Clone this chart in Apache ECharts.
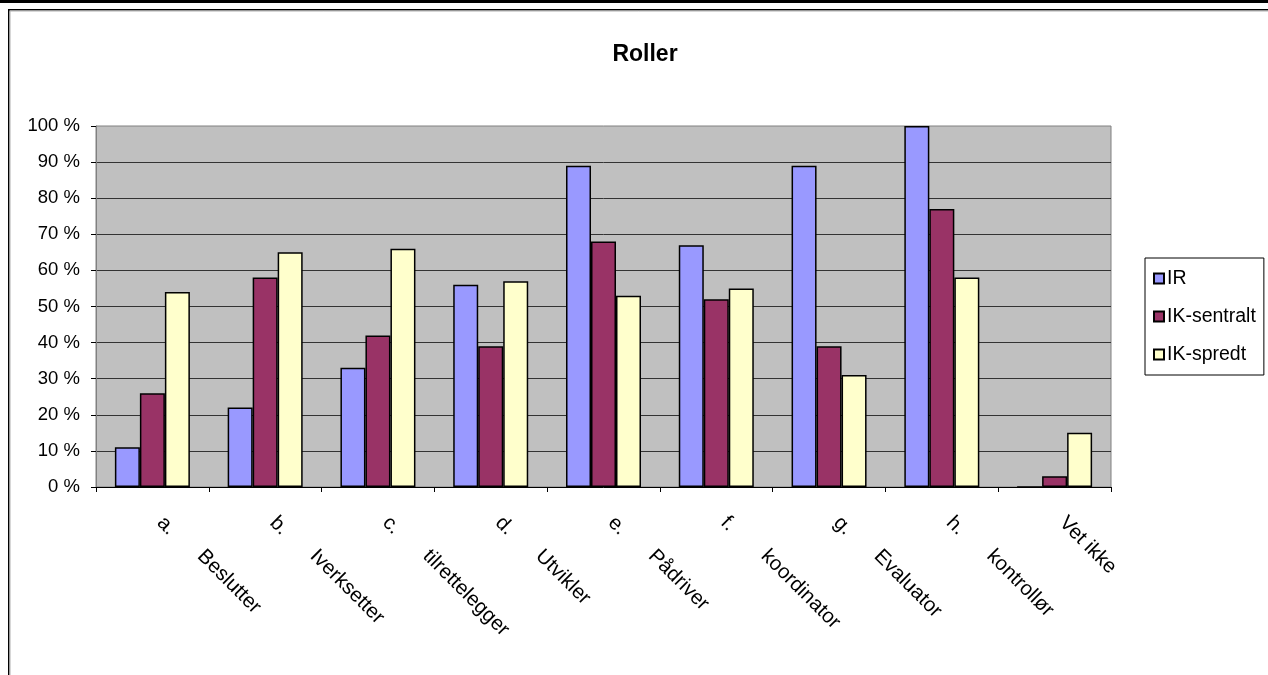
<!DOCTYPE html>
<html>
<head>
<meta charset="utf-8">
<title>Roller</title>
<script src="https://cdn.jsdelivr.net/npm/echarts@6/dist/echarts.min.js"></script>
<style>
  html, body { margin: 0; padding: 0; background: #fff; }
  #chart { width: 1268px; height: 675px; }
</style>
</head>
<body>
<div id="chart"></div>
<script>
// Category labels: role letter on the first line, role name on the second
const categories = [
  'a.\nBeslutter', 'b.\nIverksetter', 'c.\ntilrettelegger', 'd.\nUtvikler',
  'e.\nPådriver', 'f.\nkoordinator', 'g.\nEvaluator', 'h.\nkontrollør', 'Vet ikke'
];
const seriesNames = ['IR', 'IK-sentralt', 'IK-spredt'];
const irValues = [11, 22, 33, 56, 89, 67, 89, 100, 0];
const ikSentraltValues = [26, 58, 42, 39, 68, 52, 39, 77, 3];
const ikSpredtValues = [54, 65, 66, 57, 53, 55, 31, 58, 15];
const seriesColors = ['#9999FF', '#993366', '#FFFFCC'];
const yMin = 0, yMax = 100, yStep = 10;

const FONT = '"Liberation Sans", Arial, sans-serif';

function firstLine(v) { return v.split('\n')[0]; }
function secondLine(v) { const p = v.split('\n'); return p.length > 1 ? p[1] : ''; }

const chart = echarts.init(document.getElementById('chart'), null, { renderer: 'canvas' });

const seriesData = [irValues, ikSentraltValues, ikSpredtValues];

const option = {
  animation: false,
  backgroundColor: '#ffffff',
  textStyle: { fontFamily: FONT, color: '#000' },
  title: {
    text: 'Roller',
    left: 640,
    top: 38,
    textAlign: 'center',
    textStyle: { fontFamily: FONT, fontWeight: 'bold', fontSize: 23, color: '#000' }
  },
  legend: {
    orient: 'vertical',
    left: 1145,
    top: 258,
    data: seriesNames,
    icon: 'rect',
    itemWidth: 10,
    itemHeight: 10,
    itemGap: 17,
    padding: [10, 8, 10, 8],
    backgroundColor: '#fff',
    borderColor: '#000',
    borderWidth: 1,
    borderRadius: 0,
    textStyle: { fontFamily: FONT, fontSize: 19.5, color: '#000', lineHeight: 21, padding: [0, 0, 0, -2] }
  },
  grid: {
    left: 96, top: 126, right: 157, bottom: 188,
    show: true,
    backgroundColor: '#C0C0C0',
    borderColor: '#808080',
    borderWidth: 1,
    containLabel: false
  },
  xAxis: [
    {
      type: 'category',
      data: categories,
      position: 'bottom',
      boundaryGap: true,
      axisLine: { show: true, lineStyle: { color: '#000', width: 1 } },
      axisTick: { show: true, length: 5, alignWithLabel: false, lineStyle: { color: '#000', width: 1 } },
      axisLabel: {
        interval: 0,
        rotate: -45,
        margin: 25,
        padding: [0, 0, 0, 11],
        fontFamily: FONT,
        fontSize: 20.5,
        color: '#000',
        formatter: firstLine
      },
      splitLine: { show: false }
    },
    {
      type: 'category',
      data: categories,
      position: 'bottom',
      offset: 0,
      boundaryGap: true,
      axisLine: { show: false },
      axisTick: { show: false },
      axisLabel: {
        interval: 0,
        rotate: -45,
        margin: 18,
        padding: [0, 0, 0, 68],
        fontFamily: FONT,
        fontSize: 20.5,
        color: '#000',
        formatter: secondLine
      },
      splitLine: { show: false }
    }
  ],
  yAxis: {
    type: 'value',
    min: yMin,
    max: yMax,
    interval: yStep,
    axisLine: { show: true, lineStyle: { color: '#808080', width: 1 } },
    axisTick: { show: true, length: 5, lineStyle: { color: '#000', width: 1 } },
    axisLabel: {
      margin: 16,
      fontFamily: FONT,
      fontSize: 18.5,
      color: '#000',
      formatter: '{value} %'
    },
    splitLine: {
      show: true,
      showMinLine: false,
      showMaxLine: false,
      lineStyle: { color: '#333', width: 1 }
    }
  },
  series: seriesNames.map((name, i) => ({
    name: name,
    type: 'bar',
    xAxisIndex: 0,
    data: seriesData[i],
    barWidth: 25,
    barGap: '0%',
    itemStyle: { color: seriesColors[i], borderColor: '#000', borderWidth: 1.5 }
  })),
  graphic: [
    // page frame: heavy rule at the very top, then the chart-area border
    { type: 'rect', silent: true, shape: { x: 0, y: 0, width: 1268, height: 3 }, style: { fill: '#000' } },
    { type: 'line', silent: true, shape: { x1: 8, y1: 9.75, x2: 1268, y2: 9.75 }, style: { stroke: '#000', lineWidth: 1.5 } },
    { type: 'line', silent: true, shape: { x1: 9, y1: 11, x2: 1268, y2: 11 }, style: { stroke: '#b0b0b0', lineWidth: 1 } },
    { type: 'line', silent: true, shape: { x1: 8.75, y1: 9, x2: 8.75, y2: 675 }, style: { stroke: '#000', lineWidth: 1.5 } },
    { type: 'line', silent: true, shape: { x1: 10, y1: 11, x2: 10, y2: 675 }, style: { stroke: '#b0b0b0', lineWidth: 1 } }
  ]
};

chart.setOption(option);
</script>
</body>
</html>
